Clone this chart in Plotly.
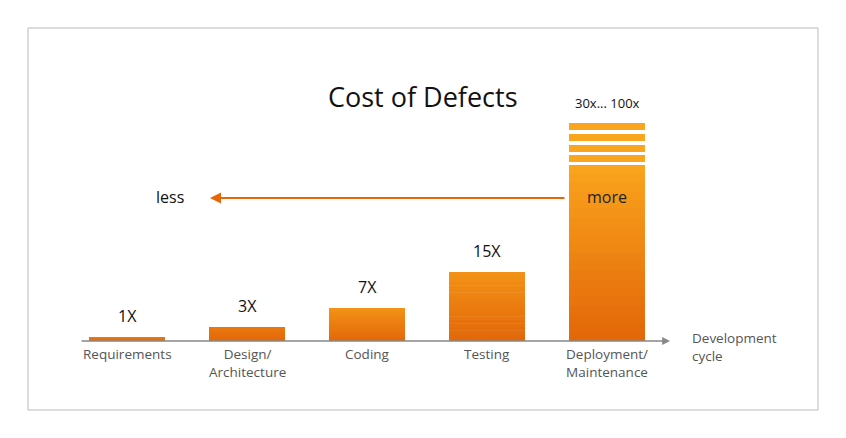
import plotly.graph_objects as go

categories = ["Requirements", "Design/<br>Architecture", "Coding", "Testing", "Deployment/<br>Maintenance"]
multipliers = ["1X", "3X", "7X", "15X", "30x... 100x"]
bar_heights = [4, 14, 33, 69, 176]          # visual bar heights (relative cost)
stripe_bases = [179, 189, 200, 211]          # extra stripes on top of last bar
stripe_height = 7

x = list(range(len(categories)))
W, H = 846, 438
OFF = 8  # page body margin
base_px, x0_px, step_px = 341 - OFF, 127 - OFF, 120
font = "Open Sans"

fig = go.Figure()
colors_bottom = (227, 104, 10)
colors_top = (250, 163, 28)
n = 20
for i, h in enumerate(bar_heights):
    for k in range(n):
        t = k / (n - 1)
        s = t if i == 4 else t * 0.7 * (0.4 if i < 2 else 1)
        c = tuple(int(colors_bottom[j] + (colors_top[j] - colors_bottom[j]) * s) for j in range(3))
        fig.add_trace(go.Bar(x=[x[i]], y=[h / n * (1.0 if k == n - 1 else 1.15)], base=[h * k / n], width=0.633,
                             marker=dict(color=f"rgb{c}", line=dict(width=0)),
                             hoverinfo="skip", showlegend=False))
fig.add_trace(go.Bar(x=[4] * len(stripe_bases), y=[stripe_height] * len(stripe_bases),
                     base=stripe_bases, width=0.633, marker=dict(color="#FAA51E", line=dict(width=0)),
                     hoverinfo="skip", showlegend=False))

for i, lab in enumerate(multipliers):
    top = stripe_bases[-1] + stripe_height if i == 4 else bar_heights[i]
    fig.add_annotation(x=x[i], y=top, text=lab, showarrow=False, yanchor="bottom",
                       yshift=9 if i == 4 else 8, font=dict(size=13 if i == 4 else 16, color="#111", family=font))
    fig.add_annotation(x=x[i], y=0, text=categories[i], showarrow=False, yanchor="top", yshift=-2,
                       font=dict(size=13.5, color="#555", family=font))

fig.add_annotation(x=(690 - OFF - x0_px) / step_px, y=0, text="Development<br>cycle", showarrow=False,
                   xanchor="left", yanchor="middle", align="left", yshift=-6,
                   font=dict(size=13.5, color="#555", family=font))
fig.add_annotation(x=(670 - OFF - x0_px) / step_px, y=0, ax=(80 - OFF - x0_px) / step_px, ay=0,
                   xref="x", yref="y", axref="x", ayref="y", text="", showarrow=True,
                   arrowhead=2, arrowsize=1.2, arrowwidth=1.3, arrowcolor="#888")
fig.add_annotation(x=(210 - OFF - x0_px) / step_px, y=143, ax=(566 - OFF - x0_px) / step_px, ay=143,
                   xref="x", yref="y", axref="x", ayref="y", text="", showarrow=True,
                   arrowhead=2, arrowsize=1.1, arrowwidth=2, arrowcolor="#E8650A")
fig.add_annotation(x=(170 - OFF - x0_px) / step_px, y=144, text="less", showarrow=False,
                   font=dict(size=16, color="#111", family=font))
fig.add_annotation(x=4, y=144, text="more", showarrow=False,
                   font=dict(size=16, color="#222", family=font))
fig.add_annotation(x=0.5 - 8 / W, y=(H - 76 + OFF) / H, xref="paper", yref="paper", text="Cost of Defects",
                   showarrow=False, font=dict(size=27, color="#111", family=font))

fig.add_shape(type="rect", xref="paper", yref="paper", x0=(28 - OFF) / W, x1=(818 - OFF) / W,
              y0=1 - (410 - OFF) / H, y1=1 - (28 - OFF) / H, line=dict(color="#bbb", width=1))

fig.update_layout(width=W, height=H, margin=dict(l=0, r=0, t=0, b=0), barmode="overlay",
                  plot_bgcolor="white", paper_bgcolor="white",
                  xaxis=dict(range=[-x0_px / step_px, (W - x0_px) / step_px], visible=False, fixedrange=True),
                  yaxis=dict(range=[base_px - H, base_px], visible=False, fixedrange=True))
fig.write_html("out.html")
